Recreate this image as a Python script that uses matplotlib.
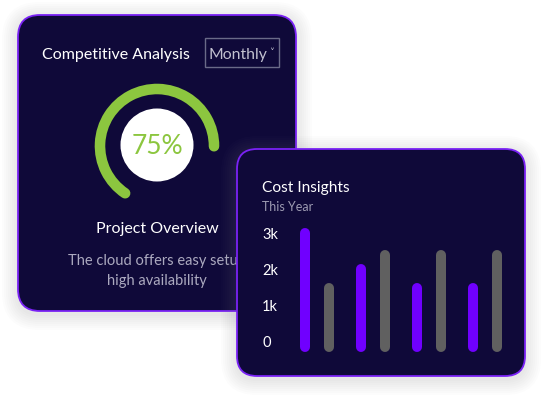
import matplotlib
matplotlib.use("Agg")
import matplotlib.pyplot as plt
from matplotlib.patches import FancyBboxPatch, Arc, Circle, Rectangle

# data
gauge_value = 75
gauge_label = "75%"
groups = ["A", "B", "C", "D"]
purple_values = [3000, 2000, 1500, 1500]
gray_values = [1500, 2400, 2400, 2400]
y_ticks = [0, 1000, 2000, 3000]
y_tick_labels = ["0", "1k", "2k", "3k"]

BG = "#0f0939"
BORDER = "#7a22f5"
PURPLE = "#7000ff"
GRAY = "#606060"
GREEN = "#8cc63f"
BAR_BASE = -140  # rounded bars start a little under zero

plt.rcParams['font.family'] = ['Lato', 'DejaVu Sans']

fig = plt.figure(figsize=(5.44, 3.99), dpi=100)
fig.patch.set_facecolor("white")
ax0 = fig.add_axes([0, 0, 1, 1])
ax0.set_xlim(0, 544)
ax0.set_ylim(399, 0)
ax0.axis("off")


def card(x, y, w, h, r, z):
    # soft shadow
    for i in range(8):
        g = 2 + i * 2
        ax0.add_patch(FancyBboxPatch((x - g, y - g + 3), w + 2 * g, h + 2 * g,
                                     boxstyle="round,pad=0,rounding_size=%d" % (r + g),
                                     fc="#808090", ec="none", alpha=0.025, zorder=z))
    ax0.add_patch(FancyBboxPatch((x, y), w, h, boxstyle="round,pad=0,rounding_size=%d" % r,
                                 fc=BG, ec=BORDER, lw=1.3, zorder=z + 0.1))


# card 1
card(18, 15, 278, 296, 22, 1)
ax0.text(42, 54.5, "Competitive Analysis", color="white", fontsize=11.5,
         va="center", ha="left", zorder=2)
ax0.add_patch(Rectangle((205, 38), 74, 29, fc="none", ec="#6a6a88", lw=1, zorder=2))
ax0.text(209, 54.5, "Monthly", color="#c2c1d0", fontsize=11.3,
         va="center", ha="left", zorder=2)
ax0.text(271.5, 53, "\u02c5", color="#c2c1d0", fontsize=7, va="center", ha="center",
         family="DejaVu Sans", zorder=2)

cx, cy, r = 157, 146, 57
sweep = 315
start = 236
end = start - gauge_value / 100 * sweep
arc = Arc((cx, cy), 2 * r, 2 * r, theta1=-start, theta2=-end, lw=7.6, color=GREEN, zorder=2)
arc.set_capstyle("round")
ax0.add_patch(arc)
ax0.add_patch(Circle((cx, cy - 1), 36.5, fc="white", ec="none", zorder=2))
ax0.text(cx, cy, gauge_label, color=GREEN, fontsize=19, ha="center", va="center", zorder=3)

ax0.text(157, 229.5, "Project Overview", color="white", fontsize=11.5,
         ha="center", va="center", zorder=2)
ax0.text(157, 261, "The cloud offers easy setup", color="#aba9bf", fontsize=10.5,
         ha="center", va="center", zorder=2)
ax0.text(157, 281, "high availability", color="#aba9bf", fontsize=10.5,
         ha="center", va="center", zorder=2)

# card 2
card(237, 149, 288, 227, 20, 4)
ax0.text(262, 188, "Cost Insights", color="white", fontsize=11.2,
         ha="left", va="center", zorder=5)
ax0.text(262, 207, "This Year", color="#9d9bb2", fontsize=9,
         ha="left", va="center", zorder=5)

# bar chart axes: x 290..512 px, y 220..360 px
ax = fig.add_axes([290 / 544, (399 - 360) / 399, 222 / 544, 140 / 399])
ax.patch.set_alpha(0)
xs = list(range(len(groups)))
off = 12 / 56
lc1 = ax.vlines([x - off for x in xs], BAR_BASE, purple_values, color=PURPLE, lw=7.2)
lc2 = ax.vlines([x + off for x in xs], BAR_BASE, gray_values, color=GRAY, lw=7.2)
lc1.set_capstyle("round")
lc2.set_capstyle("round")
ax.set_xlim(-0.482, 3.482)
ax.set_ylim(-496, 3361)
ax.set_xticks([])
ax.set_yticks(y_ticks)
ax.set_yticklabels(y_tick_labels)
ax.tick_params(axis="y", length=0, pad=20, labelsize=10.5, labelcolor="white")
for s in ax.spines.values():
    s.set_visible(False)
for lab in ax.get_yticklabels():
    lab.set_ha("left")

fig.savefig("out.png", dpi=100, facecolor="white")
